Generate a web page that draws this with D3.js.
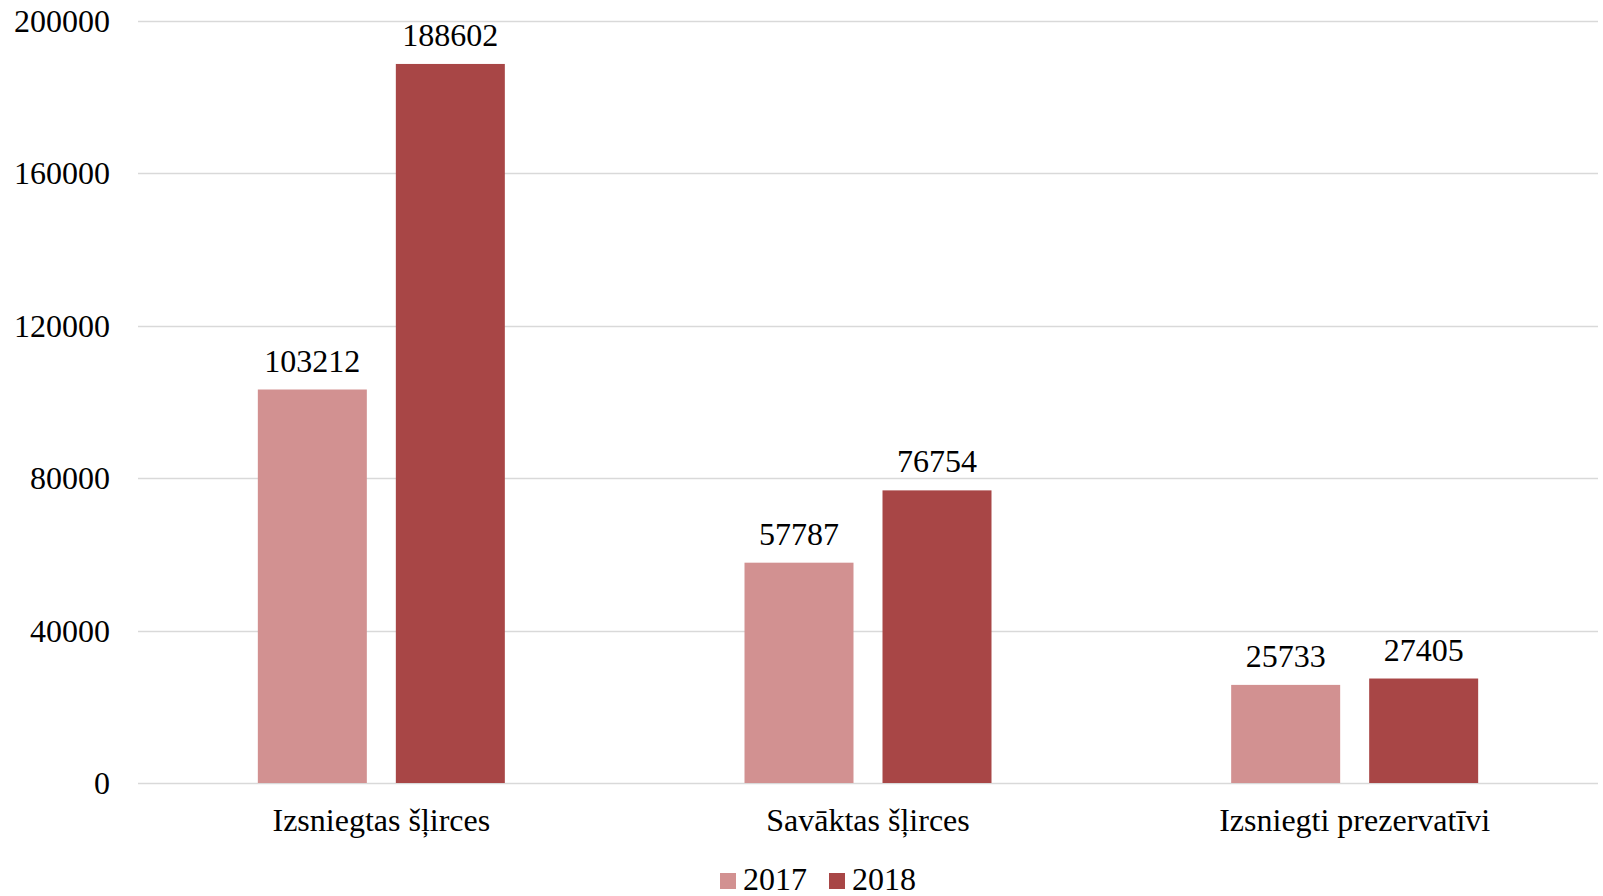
<!DOCTYPE html>
<html><head><meta charset="utf-8">
<script src="https://cdn.jsdelivr.net/npm/d3@7"></script>
<style>body{margin:0;background:#fff}svg{display:block}text{font-family:"Liberation Serif","Times New Roman",serif;fill:#000}</style>
</head><body><svg id="c" width="1603" height="896"></svg>
<script>
const categories = ["Izsniegtas šļirces", "Savāktas šļirces", "Izsniegti prezervatīvi"];
const seriesNames = ["2017", "2018"];
const values2017 = [103212, 57787, 25733];
const values2018 = [188602, 76754, 27405];
const yTicks = [0, 40000, 80000, 120000, 160000, 200000];
const colors = ["#D29191", "#A84646"];

const svg = d3.select("#c");
const plotLeft = 138, plotRight = 1598, plotTop = 20.5, plotBottom = 783;
const fs = 32;
const x = d3.scaleBand().domain(categories).range([plotLeft, plotRight]).paddingInner(0).paddingOuter(0);
const y = d3.scaleLinear().domain([0, 200000]).range([plotBottom, plotTop]);
const barW = 109, gap = 29;
const x1 = d3.scaleBand().domain(seriesNames).range([0, 2 * barW + gap]).paddingInner(gap / (barW + gap)).paddingOuter(0);

// gridlines
svg.append("g").selectAll("line").data(yTicks).join("line")
  .attr("x1", plotLeft).attr("x2", plotRight)
  .attr("y1", d => Math.round(y(d)) + 0.5).attr("y2", d => Math.round(y(d)) + 0.5)
  .attr("stroke", "#d9d9d9").attr("stroke-width", 1.5);

// y axis labels
svg.append("g").selectAll("text").data(yTicks).join("text")
  .attr("x", 110).attr("y", d => y(d) + 11)
  .attr("text-anchor", "end").attr("font-size", fs).text(d => d);

const data = categories.map((c, i) => ({c, vals: [values2017[i], values2018[i]]}));
const g = svg.append("g").selectAll("g").data(data).join("g")
  .attr("transform", d => `translate(${x(d.c) + (x.bandwidth() - (2 * barW + gap)) / 2},0)`);
g.selectAll("rect").data(d => d.vals.map((v, j) => ({v, s: seriesNames[j], j}))).join("rect")
  .attr("x", d => x1(d.s)).attr("width", x1.bandwidth())
  .attr("y", d => y(d.v)).attr("height", d => y(0) - y(d.v))
  .attr("fill", d => colors[d.j]);
g.selectAll("text.v").data(d => d.vals.map((v, j) => ({v, s: seriesNames[j], j}))).join("text")
  .attr("class", "v")
  .attr("x", d => x1(d.s) + x1.bandwidth() / 2).attr("y", d => y(d.v) - 18)
  .attr("text-anchor", "middle").attr("font-size", fs).text(d => d.v);

// category labels
svg.append("g").selectAll("text").data(categories).join("text")
  .attr("x", d => x(d) + x.bandwidth() / 2).attr("y", 831)
  .attr("text-anchor", "middle").attr("font-size", fs).text(d => d);

// legend
const legendX = [720, 829];
const lg = svg.append("g").selectAll("g").data(seriesNames).join("g")
  .attr("transform", (d, i) => `translate(${legendX[i]},873)`);
lg.append("rect").attr("width", 16).attr("height", 16).attr("fill", (d, i) => colors[i]);
lg.append("text").attr("x", 23).attr("y", 17).attr("font-size", fs).text(d => d);
</script></body></html>
